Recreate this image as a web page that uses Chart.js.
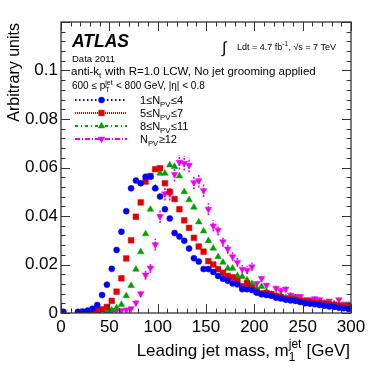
<!DOCTYPE html>
<html><head><meta charset="utf-8">
<script src="https://cdn.jsdelivr.net/npm/chart.js@4.4.1/dist/chart.umd.min.js"></script>
<style>html,body{margin:0;padding:0;background:#fff;}</style>
</head><body>
<canvas id="c" width="382" height="367"></canvas>
<script>
// ---------------- DATA ----------------
const massBins = [2.5,7.5,12.5,17.5,22.5,27.5,32.5,37.5,42.5,47.5,52.5,57.5,62.5,67.5,72.5,77.5,82.5,87.5,92.5,97.5,
  102.5,107.5,112.5,117.5,122.5,127.5,132.5,137.5,142.5,147.5,152.5,157.5,162.5,167.5,172.5,177.5,182.5,187.5,192.5,197.5,
  202.5,207.5,212.5,217.5,222.5,227.5,232.5,237.5,242.5,247.5,252.5,257.5,262.5,267.5,272.5,277.5,282.5,287.5,292.5,297.5];

const npv1to4 = [0.0005,null,null,0.0005,0.0006,0.0010,0.0018,0.0033,0.0074,0.0117,0.0182,0.0260,0.0335,0.0420,0.0514,0.0546,0.0535,0.0562,0.0562,0.0514,
  0.0480,0.0428,0.0390,0.0330,0.0315,0.0298,0.0266,0.0226,0.0212,0.0181,0.0181,0.0169,0.0153,0.0141,0.0133,0.0122,0.0118,0.0098,0.0098,0.0095,
  0.0084,0.0077,0.0074,0.0071,0.0063,0.0060,0.0055,0.0052,0.0050,0.0045,0.0040,0.0038,0.0036,0.0033,0.0030,0.0027,0.0025,0.0022,0.0020,0.0017];

const npv5to7 = [null,null,null,null,null,null,0.0008,0.0010,0.0015,0.0025,0.0050,0.0088,0.0143,0.0225,0.0300,0.0397,0.0456,0.0542,0.0565,0.0593,
  0.0597,0.0535,0.0500,0.0470,0.0428,0.0382,0.0351,0.0310,0.0274,0.0253,0.0214,0.0200,0.0181,0.0166,0.0153,0.0147,0.0133,0.0111,0.0122,0.0104,
  0.0088,0.0081,0.0083,0.0077,0.0071,0.0066,0.0060,0.0057,0.0055,0.0050,0.0048,0.0045,0.0042,0.0040,0.0038,0.0035,0.0033,0.0030,0.0027,0.0025];

const npv8to11 = [null,null,null,null,null,null,null,0.0004,null,0.0008,0.0012,0.0021,0.0035,0.0071,0.0113,0.0180,0.0252,0.0326,0.0427,0.0516,
  0.0576,0.0576,0.0610,0.0604,0.0565,0.0500,0.0467,0.0436,0.0375,0.0338,0.0298,0.0267,0.0232,0.0209,0.0184,0.0184,0.0153,0.0150,0.0136,0.0120,
  0.0102,0.0109,0.0088,0.0077,0.0071,0.0071,0.0063,0.0063,0.0060,0.0052,0.0048,0.0045,0.0042,0.0040,0.0040,0.0038,0.0038,0.0033,0.0032,0.0032];

const npv12up = [null,null,null,null,null,null,null,null,null,null,0.0008,0.0010,0.0011,0.0013,0.0018,0.0042,0.0080,0.0157,0.0186,0.0282,
  0.0398,0.0492,0.0492,0.0572,0.0622,0.0618,0.0610,0.0538,0.0546,0.0505,0.0428,0.0359,0.0342,0.0294,0.0264,0.0232,0.0209,0.0181,0.0177,0.0191,
  0.0122,0.0143,0.0115,0.0080,0.0102,0.0092,0.0099,0.0074,0.0068,0.0068,0.0055,0.0055,0.0059,0.0055,0.0045,0.0050,0.0038,0.0055,0.0037,0.0037];

const npv12upErr = [null,null,null,null,null,null,null,null,null,null,0.0006,0.0006,0.0006,0.0007,0.0008,0.0012,0.0015,0.0020,0.0021,0.0024,
  0.0027,0.0028,0.0028,0.0030,0.0030,0.0030,0.0030,0.0028,0.0028,0.0027,0.0025,0.0023,0.0022,0.0021,0.0020,0.0019,0.0018,0.0017,0.0016,0.0017,
  0.0014,0.0015,0.0013,0.0011,0.0012,0.0012,0.0012,0.0011,0.0010,0.0010,0.0009,0.0009,0.0009,0.0009,0.0008,0.0008,0.0007,0.0008,0.0007,0.0007];

const seriesLabels = ['1≤N_{PV}≤4', '5≤N_{PV}≤7', '8≤N_{PV}≤11', 'N_{PV}≥12'];
const xTickValues = [0, 50, 100, 150, 200, 250, 300];
const yTickValues = [0, 0.02, 0.04, 0.06, 0.08, 0.1];

// ---------------- STYLE ----------------
const FONT = "'Liberation Sans', Arial, Helvetica, sans-serif";
const styles = [
  {color:'#0000ff', pointStyle:'circle',   radius:3.0, rotation:0,   dash:[1.5,2.5]},
  {color:'#e00000', pointStyle:'rect',     radius:4.0, rotation:0,   dash:[1,1]},
  {color:'#00a000', pointStyle:'triangle', radius:3.8, rotation:0,   dash:[3,3,1,3]},
  {color:'#ee00ee', pointStyle:'triangle', radius:3.8, rotation:180, dash:[5,2,1,2]}
];
const seriesValues = [npv1to4, npv5to7, npv8to11, npv12up];
const seriesErrors = [null, null, null, npv12upErr];

const datasets = seriesValues.map((vals, i) => ({
  label: seriesLabels[i],
  data: massBins.map((m, k) => vals[k] == null ? null : {x: m, y: vals[k]}).filter(p => p),
  errors: seriesErrors[i] ? massBins.map((m, k) => vals[k] == null ? null : seriesErrors[i][k]).filter(e => e != null) : null,
  showLine: false,
  pointStyle: styles[i].pointStyle,
  pointRotation: styles[i].rotation,
  pointRadius: styles[i].radius,
  pointHoverRadius: styles[i].radius,
  backgroundColor: styles[i].color,
  borderColor: styles[i].color,
  pointBorderWidth: 0.5,
  borderDash: styles[i].dash
}));

// ---------------- RICH TEXT ----------------
function parseRich(str) {
  const parts = []; let i = 0, buf = '';
  const readGroup = (j) => { const end = str.indexOf('}', j); return [str.slice(j, end), end + 1]; };
  while (i < str.length) {
    if ((str[i] === '_' || str[i] === '^') && str[i+1] === '{') {
      if (buf) { parts.push({t: buf}); buf = ''; }
      const kind = str[i]; let [g, ni] = readGroup(i + 2); i = ni;
      const part = kind === '_' ? {sub: g} : {sup: g};
      if (str[i] === (kind === '_' ? '^' : '_') && str[i+1] === '{') {
        let [g2, ni2] = readGroup(i + 2); i = ni2;
        if (kind === '_') part.sup = g2; else part.sub = g2;
      }
      parts.push(part);
    } else { buf += str[i]; i++; }
  }
  if (buf) parts.push({t: buf});
  return parts;
}
function drawRich(ctx, str, x, y, size, opt = {}) {
  const parts = parseRich(str);
  const w = opt.weight || 'normal', st = opt.style || 'normal';
  const f = (s) => `${st} ${w} ${s}px ${FONT}`;
  const ss = size * 0.7;
  let total = 0;
  const widths = parts.map(p => {
    if (p.t != null) { ctx.font = f(size); return ctx.measureText(p.t).width; }
    ctx.font = f(ss);
    return Math.max(p.sub ? ctx.measureText(p.sub).width : 0, p.sup ? ctx.measureText(p.sup).width : 0) + 0.5;
  });
  widths.forEach(v => total += v);
  let cx = opt.align === 'right' ? x - total : x;
  ctx.textBaseline = 'alphabetic'; ctx.textAlign = 'left';
  parts.forEach((p, k) => {
    if (p.t != null) { ctx.font = f(size); ctx.fillText(p.t, cx, y); }
    else {
      ctx.font = f(ss);
      if (p.sub) ctx.fillText(p.sub, cx, y + size * 0.3);
      if (p.sup) ctx.fillText(p.sup, cx, y - size * 0.45);
    }
    cx += widths[k];
  });
  return total;
}

// ---------------- PLUGINS ----------------
const errorBars = {
  id: 'errorBars',
  beforeDatasetsDraw(chart) {
    const ctx = chart.ctx, xs = chart.scales.x, ys = chart.scales.y;
    chart.data.datasets.forEach((ds) => {
      if (!ds.errors) return;
      ctx.save();
      ctx.strokeStyle = ds.borderColor; ctx.lineWidth = 1.6; ctx.setLineDash([2, 1.5]);
      ds.data.forEach((p, k) => {
        const e = ds.errors[k]; if (e == null) return;
        const px = xs.getPixelForValue(p.x);
        ctx.beginPath();
        ctx.moveTo(px, ys.getPixelForValue(p.y - e));
        ctx.lineTo(px, ys.getPixelForValue(p.y + e));
        ctx.stroke();
      });
      ctx.restore();
    });
  }
};

const rootFrame = {
  id: 'rootFrame',
  afterDraw(chart) {
    const ctx = chart.ctx, a = chart.chartArea, xs = chart.scales.x, ys = chart.scales.y;
    ctx.save();
    // frame
    ctx.strokeStyle = '#333'; ctx.lineWidth = 1.3; ctx.setLineDash([]);
    ctx.strokeRect(a.left, a.top, a.right - a.left, a.bottom - a.top);
    // ticks inside
    ctx.lineWidth = 1;
    ctx.beginPath();
    for (let v = 0; v <= 300.001; v += 10) {
      const px = Math.round(xs.getPixelForValue(v)) + 0.5;
      const len = (Math.round(v) % 50 === 0) ? 9 : 4.5;
      ctx.moveTo(px, a.bottom); ctx.lineTo(px, a.bottom - len);
      ctx.moveTo(px, a.top); ctx.lineTo(px, a.top + len);
    }
    for (let k = 0; k <= 30; k++) {
      const v = k * 0.004;
      const py = Math.round(ys.getPixelForValue(v)) + 0.5;
      const len = (k % 5 === 0) ? 9 : 4.5;
      ctx.moveTo(a.left, py); ctx.lineTo(a.left + len, py);
      ctx.moveTo(a.right, py); ctx.lineTo(a.right - len, py);
    }
    ctx.stroke();

    ctx.fillStyle = '#000';
    // axis titles
    drawRich(ctx, 'Leading jet mass, m_{1}^{jet} [GeV]', 350, 356, 17, {align: 'right'});
    ctx.save();
    ctx.translate(19, a.top + 1);
    ctx.rotate(-Math.PI / 2);
    drawRich(ctx, 'Arbitrary units', 0, 0, 16, {align: 'right'});
    ctx.restore();

    // ATLAS label block
    drawRich(ctx, 'ATLAS', 72, 47, 17.5, {weight: 'bold', style: 'italic'});
    drawRich(ctx, 'Data 2011', 72, 62, 9.5);
    drawRich(ctx, 'anti-k_{t} with R=1.0 LCW, No jet grooming applied', 71, 75, 11.5);
    drawRich(ctx, '600 ≤ p_{T}^{jet} < 800 GeV, |η| < 0.8', 72, 89, 10);

    // luminosity
    ctx.font = `normal 16px ${FONT}`;
    ctx.fillText('∫', 222, 53);
    drawRich(ctx, 'Ldt = 4.7 fb^{-1}, √s = 7 TeV', 237, 50, 9);

    // legend
    chart.data.datasets.forEach((ds, i) => {
      const ly = Math.round(99.5 + i * 13.3);
      ctx.save();
      ctx.strokeStyle = ds.borderColor; ctx.lineWidth = 2; ctx.setLineDash(ds.borderDash);
      ctx.beginPath(); ctx.moveTo(75, ly); ctx.lineTo(127, ly); ctx.stroke();
      ctx.setLineDash([]);
      ctx.fillStyle = ds.backgroundColor; ctx.strokeStyle = ds.borderColor; ctx.lineWidth = 0.5;
      Chart.helpers.drawPoint(ctx, {pointStyle: ds.pointStyle, rotation: ds.pointRotation, radius: ds.pointRadius, borderWidth: 0.5}, 101.5, ly);
      ctx.restore();
      ctx.fillStyle = '#000';
      drawRich(ctx, ds.label, 140, ly + 4, 11);
    });
    ctx.restore();
  }
};

// ---------------- CHART ----------------
new Chart(document.getElementById('c'), {
  type: 'scatter',
  data: {datasets},
  options: {
    responsive: false, animation: false, devicePixelRatio: 1,
    layout: {padding: {top: 22, right: 31, left: 0, bottom: 0}},
    plugins: {legend: {display: false}, tooltip: {enabled: false}},
    scales: {
      x: {
        type: 'linear', min: 0, max: 300,
        afterFit(s) { s.height = 54; },
        afterBuildTicks(s) { s.ticks = xTickValues.map(v => ({value: v})); },
        grid: {display: false, drawTicks: false}, border: {display: false},
        ticks: {padding: 4, color: '#000', font: {family: FONT, size: 17}, maxRotation: 0, autoSkip: false,
          callback: v => String(v)}
      },
      y: {
        type: 'linear', min: 0, max: 0.12,
        afterFit(s) { s.width = 61; },
        afterBuildTicks(s) { s.ticks = yTickValues.map(v => ({value: v})); },
        grid: {display: false, drawTicks: false}, border: {display: false},
        ticks: {padding: 3, color: '#000', font: {family: FONT, size: 17}, autoSkip: false,
          callback: v => String(+(+v).toFixed(4))}
      }
    }
  },
  plugins: [errorBars, rootFrame]
});
</script>
</body></html>
